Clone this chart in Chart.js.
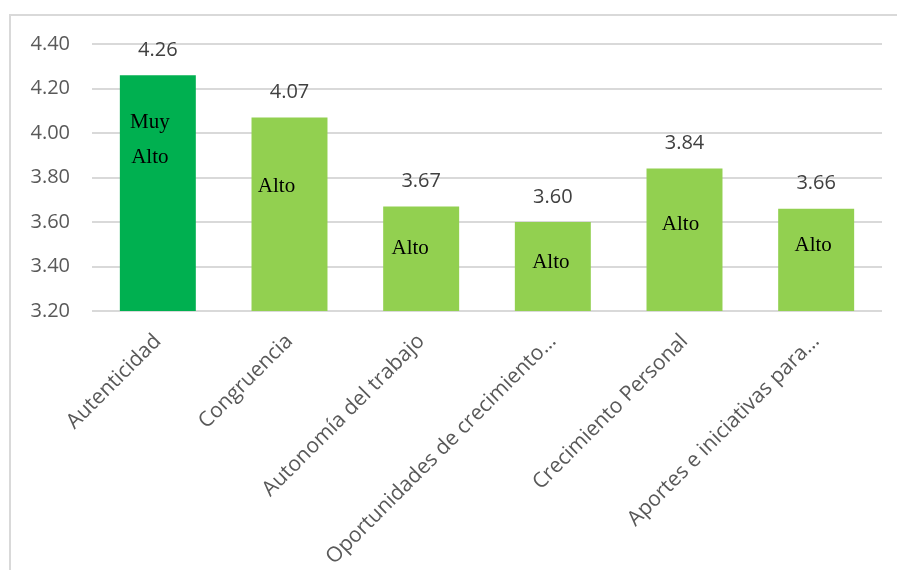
<!DOCTYPE html>
<html>
    <head>
        <meta charset="UTF-8">
        <title>Dimensiones</title>
        <script src="https://cdn.jsdelivr.net/npm/chart.js@4/dist/chart.umd.min.js"></script>
        <style>
            body{margin:0;background:#fff;}
            #frame{position:absolute;left:9px;top:14px;width:900px;height:570px;
                border-left:2px solid #d9d9d9;border-top:2px solid #d9d9d9;}
            #chartContainer{position:absolute;left:0;top:0;width:897px;height:570px;}
        </style>
    </head>
    <body>
        <div id="frame"></div>
        <div id="chartContainer"><canvas id="chart"></canvas></div>
        <script>
            const categories=[
                "Autenticidad",
                "Congruencia",
                "Autonomía del trabajo",
                "Oportunidades de crecimiento…",
                "Crecimiento Personal",
                "Aportes e iniciativas para…"
            ];
            const values=[4.26,4.07,3.67,3.60,3.84,3.66];
            const levels=[["Muy","Alto"],["Alto"],["Alto"],["Alto"],["Alto"],["Alto"]];
            const yTicks=[3.20,3.40,3.60,3.80,4.00,4.20,4.40];

            // where the level text sits inside each bar (px from bar top / bar centre)
            const levelShift=[[-8,47],[-13,69],[-11,42],[-2,40],[-4,56],[-3,37]];

            const barColors=values.map((v,i)=>i==0?"#00B050":"#92D050");

            const barLabels={
                id:"barLabels",
                afterDatasetsDraw(chart){
                    const ctx=chart.ctx;
                    const bars=chart.getDatasetMeta(0).data;
                    ctx.save();
                    ctx.textAlign="center";
                    ctx.textBaseline="middle";
                    bars.forEach((bar,i)=>{
                        ctx.fillStyle="#404040";
                        ctx.font="20px 'Open Sans'";
                        ctx.fillText(values[i].toFixed(2),bar.x,bar.y-25);

                        ctx.fillStyle="#000";
                        ctx.font="21px 'Liberation Serif'";
                        const [dx,dy]=levelShift[i];
                        levels[i].forEach((t,j)=>{
                            ctx.fillText(t,bar.x+dx,bar.y+dy+j*35);
                        });
                    });
                    ctx.restore();
                }
            };

            new Chart(document.getElementById("chart"),{
                type:"bar",
                data:{
                    labels:categories,
                    datasets:[{
                        data:values,
                        backgroundColor:barColors,
                        barPercentage:0.577,
                        categoryPercentage:1
                    }]
                },
                options:{
                    responsive:true,
                    maintainAspectRatio:false,
                    animation:false,
                    layout:{padding:{top:44,right:15,left:0,bottom:0}},
                    plugins:{legend:{display:false},tooltip:{enabled:false}},
                    scales:{
                        x:{
                            grid:{display:false},
                            border:{display:false},
                            ticks:{
                                color:"#595959",
                                font:{family:"Open Sans",size:21},
                                minRotation:45,
                                maxRotation:45,
                                autoSkip:false,
                                padding:10
                            },
                            afterFit:s=>{s.height=259;}
                        },
                        y:{
                            min:3.2,
                            max:4.4,
                            afterBuildTicks:s=>{s.ticks=yTicks.map(v=>({value:v}));},
                            grid:{color:"#d9d9d9",lineWidth:2,drawTicks:false},
                            border:{display:false},
                            ticks:{
                                color:"#595959",
                                font:{family:"Open Sans",size:20},
                                padding:22,
                                callback:v=>v.toFixed(2)
                            },
                            afterFit:s=>{s.width=92;}
                        }
                    }
                },
                plugins:[barLabels]
            });
        </script>
    </body>
</html>
